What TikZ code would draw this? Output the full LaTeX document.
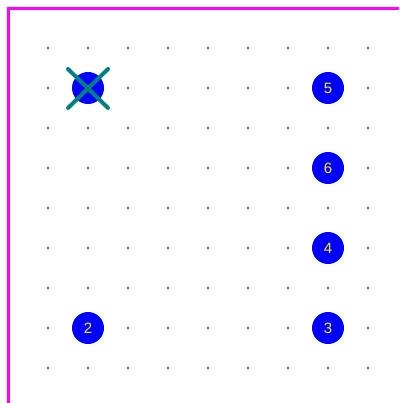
\documentclass[tikz,border=0pt]{standalone}
\usepackage{fontspec}
\setmainfont{Liberation Sans}
\definecolor{pinkline}{RGB}{255,0,255}
\definecolor{padblue}{RGB}{0,0,255}
\definecolor{padtext}{RGB}{255,240,0}
\definecolor{teal}{RGB}{0,128,128}
\definecolor{dotgray}{RGB}{60,60,60}
\begin{document}
\begin{tikzpicture}[x=1pt,y=-1pt,
  pad/.style={circle,fill=padblue,minimum size=32pt,inner sep=0pt,text=padtext,font=\fontsize{15}{15}\selectfont},
  griddot/.style={fill=dotgray},
  xmark/.style={draw=teal,line width=4pt,line cap=round}]
\useasboundingbox (0,0) rectangle (399,403);
\fill[white] (0,0) rectangle (399,403);
\draw[pinkline,line width=3pt] (8.5,403) -- (8.5,8.5) -- (399,8.5);
\foreach \i in {48,88,...,368}{
  \foreach \j in {48,88,...,368}{
    \fill[griddot] (\i,\j) circle (1.1pt);
  }
}
\node[pad] (p1) at (88,88) {};
\node[pad] (p5) at (328,88) {5};
\node[pad] (p6) at (328,168) {6};
\node[pad] (p4) at (328,248) {4};
\node[pad] (p3) at (328,328) {3};
\node[pad] (p2) at (88,328) {2};
\fill[griddot] (p1.center) circle (1.1pt);
\coordinate (xa) at (68,69);
\coordinate (xb) at (108,108);
\coordinate (xc) at (108,69);
\coordinate (xd) at (68,108);
\draw[xmark] (xa) -- (xb);
\draw[xmark] (xc) -- (xd);
\end{tikzpicture}
\end{document}
